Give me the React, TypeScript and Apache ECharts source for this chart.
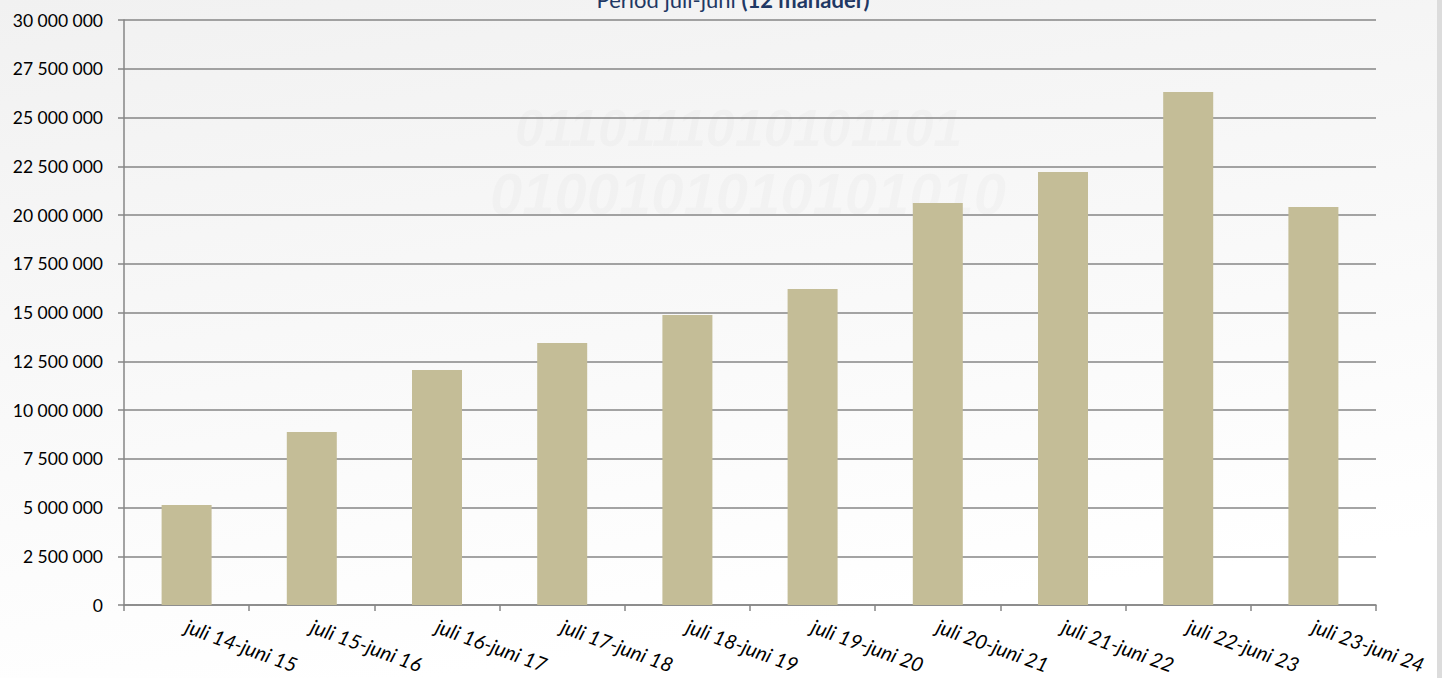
import React, { useEffect, useRef } from "react";
import * as echarts from "echarts";

const categories = [
  "juli 14-juni 15",
  "juli 15-juni 16",
  "juli 16-juni 17",
  "juli 17-juni 18",
  "juli 18-juni 19",
  "juli 19-juni 20",
  "juli 20-juni 21",
  "juli 21-juni 22",
  "juli 22-juni 23",
  "juli 23-juni 24",
];
const values = [5130000, 8870000, 12050000, 13440000, 14870000, 16210000, 20620000, 22210000, 26310000, 20410000];
const titleRegular = "Period juli-juni ";
const titleBold = "(12 månader)";
const watermark = ["100100101011001", "0110111010101101", "0100101010101010"];

const fmt = (v: number) => String(Math.round(v)).replace(/\B(?=(\d{3})+(?!\d))/g, " ");

export default function App() {
  const ref = useRef<HTMLDivElement>(null);
  useEffect(() => {
    if (!ref.current) return;
    const chart = echarts.init(ref.current, undefined, { renderer: "svg" });
    chart.setOption({
      animation: false,
      backgroundColor: {
        type: "linear",
        x: 0,
        y: 0,
        x2: 0.3,
        y2: 1,
        colorStops: [
          { offset: 0, color: "#f1f1f1" },
          { offset: 0.5, color: "#f8f8f8" },
          { offset: 1, color: "#ffffff" },
        ],
      },
      graphic: [
        { type: "rect", left: 1437, top: 0, shape: { width: 5, height: 678 }, style: { fill: "#dcdcdc" }, silent: true, z: -1 },
        ...watermark.map((t, i) => ({
          type: "text",
          x: 540 - i * 25,
          y: 40 + i * 62,
          z: -1,
          silent: true,
          style: {
            text: t,
            font: "italic bold " + (46 + i * 6) + "px 'Liberation Sans'",
            fill: "rgba(0,0,0,0.02)",
          },
        })),
        {
          type: "text",
          x: 733,
          y: 10,
          style: {
            text: "{r|" + titleRegular + "}{b|" + titleBold + "}",
            textAlign: "center",
            textVerticalAlign: "bottom",
            rich: {
              r: { fontFamily: "Lato", fontSize: 22, fill: "#1f3864", color: "#1f3864" },
              b: { fontFamily: "Lato", fontSize: 22, fontWeight: "bold", fill: "#1f3864", color: "#1f3864" },
            },
          },
        },
      ],
      grid: { left: 124, right: 66, top: 20, bottom: 73, containLabel: false },
      xAxis: {
        type: "category",
        data: categories,
        axisLine: { lineStyle: { color: "#868686", width: 1.5 } },
        axisTick: { show: true, length: 6, lineStyle: { color: "#868686", width: 1.5 } },
        axisLabel: {
          interval: 0,
          rotate: -20,
          margin: 20,
          fontFamily: "Lato",
          fontStyle: "italic",
          fontSize: 20,
          color: "#000",
        },
      },
      yAxis: {
        type: "value",
        min: 0,
        max: 30000000,
        interval: 2500000,
        axisLine: { show: true, lineStyle: { color: "#868686", width: 1.5 } },
        axisTick: { show: true, length: 6, lineStyle: { color: "#868686", width: 1.5 } },
        splitLine: { lineStyle: { color: "#868686", width: 1.5 } },
        axisLabel: {
          formatter: (v: number) => fmt(v),
          fontFamily: "Lato",
          fontSize: 17.5,
          color: "#000",
          margin: 21,
        },
      },
      series: [
        {
          type: "bar",
          data: values,
          barWidth: 50,
          itemStyle: { color: "#c4bd97" },
        },
      ],
    });
    return () => chart.dispose();
  }, []);
  return <div ref={ref} style={{ position: "fixed", left: 0, top: 0, width: 1442, height: 678 }} />;
}
